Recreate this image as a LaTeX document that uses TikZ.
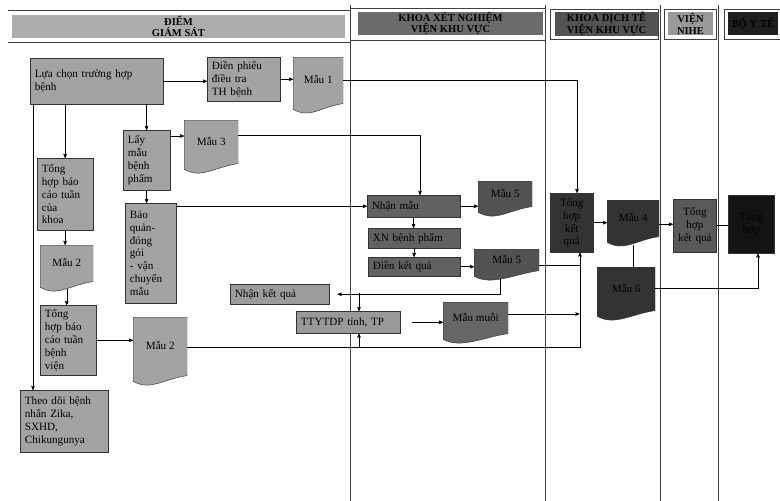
\documentclass[tikz,border=0pt]{standalone}
\usepackage{fontspec}
\setmainfont{Liberation Serif}
\usetikzlibrary{arrows}

\begin{document}
\begin{tikzpicture}[>=stealth',x=0.3mm,y=-0.3mm,thin,
  doc/.style={anchor=north west,inner sep=2pt,align=center,text depth=4mm,
    path picture={\filldraw[fill=#1,draw=black!80]
      (path picture bounding box.north west) -- (path picture bounding box.north east)
      -- ([yshift=3.5mm]path picture bounding box.south east)
      .. controls +(-7mm,-1mm) and +(5mm,-3mm) ..
      ([yshift=1.8mm]path picture bounding box.south west) -- cycle;}}]
  \tikzstyle{every node}=[font=\fontsize{9.5}{11}\selectfont]
  \tikzstyle{lbox}=[draw=black!80,fill=gray!72,anchor=north west,inner xsep=4pt,inner ysep=2pt,align=left]
  \tikzstyle{mbox}=[lbox,fill=black!62]
  \tikzstyle{dbox}=[lbox,fill=black!80,align=center,inner xsep=2pt]
  \tikzstyle{head}=[font=\bfseries\fontsize{9}{10}\selectfont,align=center,minimum height=6.9mm,inner sep=0pt]
  \tikzstyle{lane}=[draw=black!75]
  \useasboundingbox (0,0) rectangle (780,501);

  % swimlanes
  \draw[lane] (8,10) -- (350,10) (8,42) -- (350,42);
  \draw[lane] (350,8) -- (545,8) (350,40) -- (545,40);
  \draw[lane] (550,9) rectangle (658,39);
  \draw[lane] (664,9) rectangle (716,39);
  \draw[lane] (724,9) rectangle (780,39);
  \draw[lane] (350,5) -- (350,501) (545,5) -- (545,501)
              (660,5) -- (660,501) (718,5) -- (718,501);
  \node[head,fill=gray!64,minimum width=99.9mm] (hd1) at (178.5,26.5) {ĐIỂM\\GIÁM SÁT};
  \node[head,fill=black!58,minimum width=55.5mm] (hd2) at (450.5,23.5) {KHOA XÉT NGHIỆM\\VIỆN KHU VỰC};
  \node[head,fill=black!68,minimum width=30.9mm] (hd3) at (606.5,24) {KHOA DỊCH TỄ\\VIỆN KHU VỰC};
  \node[head,fill=black!40,minimum width=13.5mm] (hd4) at (690.5,24) {VIỆN\\NIHE};
  \node[head,fill=black!88,minimum width=15mm] (hd5) at (753,24) {BỘ Y TẾ};

  % diem giam sat
  \node[lbox,text width=37mm,minimum height=13.8mm] (sel) at (30,58) {Lựa chọn trường hợp\\bệnh};
  \node[lbox,text width=19mm,minimum height=13.2mm] (form) at (207,57) {Điền phiếu\\điều tra\\TH bệnh};
  \node[doc=gray!72,minimum width=15mm,minimum height=17.4mm] (m1) at (293,57) {Mẫu 1};
  \node[lbox,text width=11.2mm,minimum height=18mm] (take) at (123,130) {Lấy\\mẫu\\bệnh\\phẩm};
  \node[doc=gray!72,minimum width=16.2mm,minimum height=16.5mm] (m3) at (184,120) {Mẫu 3};
  \node[lbox,text width=13.9mm,minimum height=21.6mm] (wk) at (37,158) {Tổng\\hợp báo\\cáo tuần\\của\\khoa};
  \node[doc=gray!72,minimum width=15.9mm,minimum height=14.4mm] (m2a) at (40,245) {Mẫu 2};
  \node[lbox,text width=12.4mm,minimum height=30mm] (pack) at (125,203) {Bảo\\quản-\\đóng\\gói\\- vận\\chuyển\\mẫu};
  \node[lbox,text width=13.9mm,minimum height=21mm] (hos) at (40,305) {Tổng\\hợp báo\\cáo tuần\\bệnh\\viện};
  \node[doc=gray!72,minimum width=16.2mm,minimum height=21mm] (m2b) at (133,317) {Mẫu 2};
  \node[lbox,text width=23.5mm,minimum height=18.6mm] (fol) at (20,390) {Theo dõi bệnh\\nhân Zika,\\SXHD,\\Chikungunya};
  \node[lbox,fill=gray!78,text width=26.8mm,minimum height=6mm] (res) at (230,284) {Nhận kết quả};
  \node[lbox,fill=gray!80,text width=28.3mm,minimum height=6.6mm] (pmc) at (296,311) {TTYTDP tỉnh, TP};

  % khoa xet nghiem
  \node[mbox,text width=25mm,minimum height=6.6mm] (rcv) at (367,195) {Nhận mẫu};
  \node[doc=black!68,minimum width=16.2mm,minimum height=11.1mm] (m5a) at (478,181) {Mẫu 5};
  \node[mbox,text width=24.7mm,minimum height=6mm] (xn) at (368,228) {XN bệnh phẩm};
  \node[mbox,text width=24.7mm,minimum height=5.7mm] (fil) at (368,257) {Điền kết quả};
  \node[doc=black!68,minimum width=19.5mm,minimum height=9.9mm] (m5b) at (474,249) {Mẫu 5};
  \node[doc=black!60,minimum width=19.5mm,minimum height=12.9mm] (mos) at (443,302) {Mẫu muỗi};

  % khoa dich te, NIHE
  \node[dbox,text width=11.5mm,minimum height=17.7mm] (sum) at (550,193) {Tổng\\hợp\\kết\\quả};
  \node[doc=black!80,minimum width=15.6mm,minimum height=14.4mm] (m4) at (607,200) {Mẫu 4};
  \node[doc=black!80,minimum width=17.4mm,minimum height=16.5mm] (m6) at (597,267) {Mẫu 6};
  \node[dbox,fill=black!65,text width=11.6mm,minimum height=15.9mm] (nihe) at (673,199) {Tổng\\hợp\\kết quả};
  \node[dbox,fill=black!92,text width=12.3mm,minimum height=17.4mm] (moh) at (728,195) {Tổng\\hợp};

  \coordinate (c1) at (577,80);
  \coordinate (c3) at (420,135);
  \coordinate (c6) at (33,104);
  \coordinate (c7) at (170,136);
  \coordinate (c14) at (580,347);
  \coordinate (c15) at (359,293);
  \coordinate (c19) at (500,293);
  \coordinate (c20) at (508,314);
  \coordinate (c25) at (758,288);

  \draw[->] (sel.east) -- (sel.east -| form.west);
  \draw[->] (form.east) -- (form.east -| m1.west);
  \draw[->] (m1.east |- c1) -| (c1 |- sum.north);
  \draw[->] (take.north |- sel.south) -- (take.north);
  \draw[->] (wk.north |- sel.south) -- (wk.north);
  \draw[->] (c6) -- (c6 |- fol.north);
  \draw[->] (take.east |- c7) -- (c7 -| m3.west);
  \draw[->] (m3.east |- c3) -| (c3 |- rcv.north);
  \draw[->] (take.south) -- (take.south |- pack.north);
  \draw[->] (pack.east |- rcv.west) -- (rcv.west);
  \draw[->] (wk.south) -- (wk.south |- m2a.north);
  \draw[->] ([yshift=1.2mm]m2a.south) -- (m2a.south |- hos.north);
  \draw[->] (hos.east) -- (hos.east -| m2b.west);
  \draw[->] (m2b.east |- c14) -| (c14 |- sum.south);
  \draw[->] (c15 |- c14) -- (c15 |- pmc.south);
  \draw[->] (c15) -- (c15 |- pmc.north);
  \draw[->,shorten >=2.5mm] ([yshift=1mm]c19 |- m5b.south) |- (res.east);
  \draw (m5b.east) -- (m5b.east -| c14);
  \draw[->] (mos.east |- c20) -- ([xshift=-0.5pt]c14 |- c20);
  \draw[->,shorten <=3.5mm] (pmc.east) -- (pmc.east -| mos.west);
  \draw[->] (rcv.east) -- (rcv.east -| m5a.west);
  \draw[->] (rcv.south) -- (rcv.south |- xn.north);
  \draw[->] (xn.south) -- (xn.south |- fil.north);
  \draw[->] (fil.east) -- (fil.east -| m5b.west);
  \draw[->] (sum.east) -- (sum.east -| m4.west);
  \draw[->] (m4.east) -- (m4.east -| nihe.west);
  \draw ([yshift=1mm]m4.south) -- (m4.south |- m6.north);
  \draw[->] (m6.east |- c25) -| (c25 |- moh.south);
  \draw (nihe.east) -- (nihe.east -| moh.west);
\end{tikzpicture}
\end{document}
